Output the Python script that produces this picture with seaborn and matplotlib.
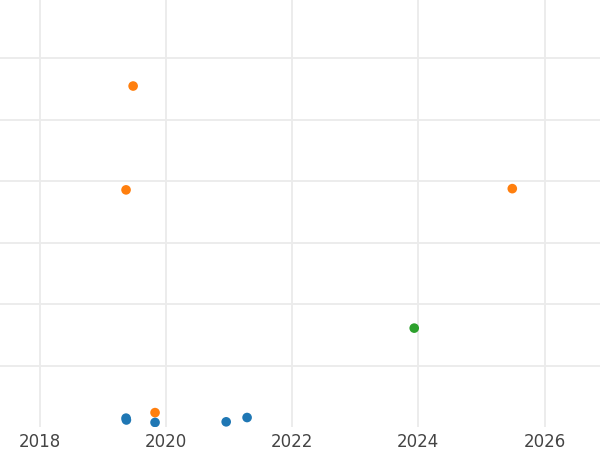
#!/usr/bin/env python3
"""
Scatter of events over time, coloured by group
"""

import pandas as pd
import matplotlib
matplotlib.use("Agg")
import matplotlib.pyplot as plt
import matplotlib.dates as mdates
import seaborn as sns

# Data
dates = ["2019-06-24", "2019-05-14", "2025-06-28", "2019-10-29",
         "2023-12-08",
         "2019-05-14", "2019-05-16", "2019-10-29", "2020-12-14", "2021-04-14"]
values = [55.5, 38.6, 38.8, 2.35,
          16.1,
          1.45, 1.15, 0.75, 0.85, 1.55]
groups = ["B", "B", "B", "B",
          "C",
          "A", "A", "A", "A", "A"]
palette = {"A": "#1f77b4", "B": "#ff7f0e", "C": "#2ca02c"}

df = pd.DataFrame({"date": pd.to_datetime(dates), "value": values, "group": groups})

sns.set_theme(style="white")
plt.rcParams['font.family'] = ['DejaVu Sans']

fig = plt.figure(figsize=(6, 4.5), dpi=100)
ax = fig.add_axes([0, 0.051, 1, 0.949])

sns.scatterplot(data=df, x="date", y="value", hue="group", palette=palette,
                s=48, linewidth=0, legend=False, ax=ax, zorder=3)

ax.set_xlim(pd.Timestamp("2017-05-14"), pd.Timestamp("2026-11-18"))
ax.set_ylim(0, 69.5)
ax.xaxis.set_major_locator(mdates.YearLocator(2))
ax.xaxis.set_major_formatter(mdates.DateFormatter("%Y"))
ax.set_yticks([10, 20, 30, 40, 50, 60])
ax.set_yticklabels([])
ax.set_xlabel("")
ax.set_ylabel("")
ax.grid(True, color="#ebebeb", linewidth=1.3)
ax.set_axisbelow(True)
for sp in ax.spines.values():
    sp.set_visible(False)
ax.tick_params(axis="x", length=0, pad=4, labelsize=12, labelcolor="#444444")
ax.tick_params(axis="y", length=0)

plt.savefig("out.png", dpi=100)
plt.close()
